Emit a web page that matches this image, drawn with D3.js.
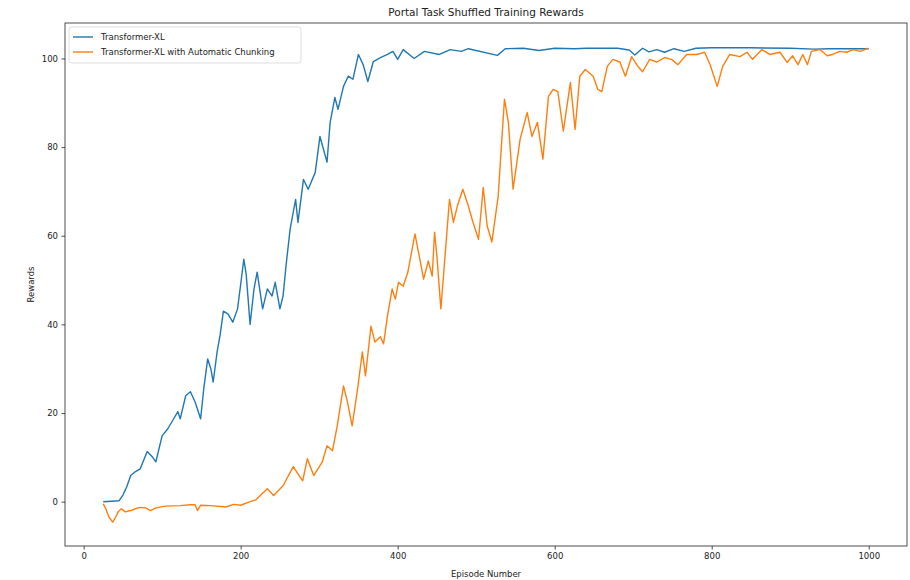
<!DOCTYPE html>
<html>
<head>
<meta charset="utf-8">
<script src="https://cdn.jsdelivr.net/npm/d3@7/dist/d3.min.js"></script>
<style>
  html, body { margin: 0; padding: 0; background: #fff; }
  svg text { font-family: "DejaVu Sans", sans-serif; fill: #222; }
</style>
</head>
<body>
<svg id="chart" width="910" height="580"></svg>
<script>
// ---- data ----
const title = "Portal Task Shuffled Training Rewards";
const xLabel = "Episode Number";
const yLabel = "Rewards";
const seriesNames = ["Transformer-XL", "Transformer-XL with Automatic Chunking"];
const xTicks = [0, 200, 400, 600, 800, 1000];
const yTicks = [0, 20, 40, 60, 80, 100];

const blueEpisodes = [25, 45, 50, 55, 60, 66, 72, 81, 88, 92, 100, 107, 113, 120, 123, 130, 136, 142, 149, 153,
  158, 162, 165, 170, 174, 178, 184, 190, 196, 200, 204, 207, 212, 217, 221, 228, 234, 240, 244, 250,
  254, 258, 263, 270, 273, 280, 286, 295, 301, 310, 314, 320, 324, 331, 337, 343, 350, 356, 362, 369,
  378, 387, 394, 400, 407, 421, 434, 453, 467, 481, 490, 527, 537, 560, 580, 600, 625, 640, 680, 695,
  702, 712, 720, 730, 740, 752, 765, 780, 800, 850, 900, 930, 950, 1000];
const blueRewards = [0, 0.2, 1.5, 3.4, 5.9, 6.8, 7.4, 11.3, 10, 9, 14.9, 16.4, 18.2, 20.3, 18.7, 23.9, 24.8, 22.5, 18.7, 25.5,
  32.2, 30, 27, 33.8, 37.8, 43, 42.3, 40.5, 43.5, 49, 54.7, 51.4, 40, 48, 51.8, 43.5, 48, 46.4, 49.5, 43.5,
  46.4, 53.6, 61.5, 68.2, 63, 72.7, 70.5, 74.3, 82.4, 76.6, 85.6, 91.2, 88.5, 93.7, 96, 95.3, 100.9, 98.6, 94.8, 99.3,
  100.2, 100.9, 101.6, 99.8, 102, 100, 101.6, 100.9, 102, 101.6, 102.2, 100.7, 102.2, 102.3, 101.8, 102.3, 102.2, 102.3, 102.3, 101.9,
  100.8, 102.3, 101.5, 102, 101.4, 102.2, 101.6, 102.3, 102.4, 102.4, 102.3, 102.1, 102.2, 102.2];

const orangeEpisodes = [25, 28, 32, 37, 41, 44, 48, 53, 60, 66, 72, 79, 85, 92, 104, 123, 136, 142, 145, 149,
  162, 181, 191, 200, 212, 219, 234, 242, 254, 267, 279, 285, 293, 304, 310, 317, 323, 331, 336, 342,
  349, 355, 359, 366, 371, 378, 382, 387, 393, 397, 401, 407, 413, 422, 429, 433, 439, 444, 447, 450,
  455, 459, 466, 471, 476, 483, 490, 496, 503, 509, 514, 520, 528, 536, 541, 547, 556, 565, 571, 578,
  585, 592, 598, 604, 611, 620, 626, 632, 639, 649, 655, 660, 667, 674, 683, 690, 698, 706, 712, 721,
  730, 740, 749, 757, 768, 781, 791, 798, 807, 814, 823, 836, 845, 852, 864, 874, 887, 896, 903, 910,
  916, 922, 927, 938, 947, 954, 963, 972, 980, 989, 995, 999];
const orangeRewards = [-0.5, -1.5, -3.4, -4.6, -3.4, -2.3, -1.6, -2.3, -2.0, -1.6, -1.3, -1.4, -2.0, -1.4, -1.0, -0.9, -0.7, -0.7, -2.0, -0.8,
  -0.9, -1.2, -0.6, -0.8, 0, 0.4, 2.9, 1.4, 3.6, 7.9, 4.7, 9.7, 5.9, 9, 12.6, 11.5, 17.1, 26.1, 22.5, 17.1,
  25.5, 33.8, 28.4, 39.6, 36, 37.2, 35.6, 41.9, 48, 45.7, 49.5, 48.6, 51.8, 60.4, 54, 50.2, 54.3, 50.9, 60.8, 55.4,
  43.5, 52.5, 68.2, 63, 66.7, 70.5, 66.7, 63, 59.2, 70.9, 62.2, 58.6, 68.9, 90.8, 85.6, 70.5, 81.8, 87.8, 82.4, 85.6,
  77.3, 91.4, 93, 92.5, 83.6, 94.6, 84, 96, 97.5, 96, 93, 92.5, 98.2, 99.8, 99.2, 96, 100.4, 98.2, 97, 99.8,
  99.2, 100.2, 99.8, 98.6, 100.9, 100.9, 101.4, 98.6, 93.7, 98.2, 100.9, 100.4, 101.4, 99.8, 102, 100.9, 101.4, 99.1, 100.6, 98.6,
  100.9, 98.6, 101.6, 102, 100.6, 100.9, 101.6, 101.4, 102, 101.6, 102, 102.3];

const colors = ["#1f77b4", "#ff7f0e"];

// ---- layout ----
const W = 910, H = 580;
const margin = { left: 65, right: 3, top: 23, bottom: 34 };
const iw = W - margin.left - margin.right;
const ih = H - margin.top - margin.bottom;

const svg = d3.select("#chart");
const g = svg.append("g").attr("transform", `translate(${margin.left},${margin.top})`);

const x = d3.scaleLinear().domain([-23.75, 1048.75]).range([0, iw]);
const y = d3.scaleLinear().domain([-10, 108]).range([ih, 0]);

// lines
const series = [
  blueEpisodes.map((e, i) => [e, blueRewards[i]]),
  orangeEpisodes.map((e, i) => [e, orangeRewards[i]])
];
const line = d3.line().x(d => x(d[0])).y(d => y(d[1]));
const clip = g.append("clipPath").attr("id", "clip").append("rect").attr("width", iw).attr("height", ih);
series.forEach((s, i) => {
  g.append("path").datum(s)
    .attr("fill", "none").attr("stroke", colors[i]).attr("stroke-width", 1.4)
    .attr("stroke-linejoin", "round").attr("clip-path", "url(#clip)")
    .attr("d", line);
});

// axes
const xAxis = d3.axisBottom(x).tickValues(xTicks).tickSize(3.5).tickPadding(3.5).tickFormat(d3.format("d"));
const yAxis = d3.axisLeft(y).tickValues(yTicks).tickSize(3.5).tickPadding(3.5).tickFormat(d3.format("d"));
const gx = g.append("g").attr("transform", `translate(0,${ih})`).call(xAxis);
const gy = g.append("g").call(yAxis);
[gx, gy].forEach(a => {
  a.select(".domain").remove();
  a.selectAll(".tick line").attr("stroke", "#222").attr("stroke-width", 0.8);
  a.selectAll(".tick text").attr("font-size", 8.5).attr("fill", "#222").attr("font-family", "DejaVu Sans");
});

// frame
g.append("rect").attr("width", iw).attr("height", ih)
  .attr("fill", "none").attr("stroke", "#222").attr("stroke-width", 0.8);

// title & labels
svg.append("text").attr("x", margin.left + iw / 2).attr("y", 16)
  .attr("text-anchor", "middle").attr("font-size", 10.5).text(title);
svg.append("text").attr("x", margin.left + iw / 2).attr("y", 577)
  .attr("text-anchor", "middle").attr("font-size", 8.5).text(xLabel);
svg.append("text").attr("transform", `translate(34,${margin.top + ih / 2}) rotate(-90)`)
  .attr("text-anchor", "middle").attr("font-size", 8.5).text(yLabel);

// legend
const lg = g.append("g").attr("transform", "translate(4,4)");
lg.append("rect").attr("width", 232).attr("height", 36).attr("rx", 2.5)
  .attr("fill", "#fff").attr("fill-opacity", 0.8).attr("stroke", "#d5d5d5").attr("stroke-width", 0.8);
seriesNames.forEach((name, i) => {
  const yy = 10 + i * 15;
  lg.append("line").attr("x1", 4).attr("x2", 24).attr("y1", yy).attr("y2", yy)
    .attr("stroke", colors[i]).attr("stroke-width", 1.4);
  lg.append("text").attr("x", 32).attr("y", yy + 3).attr("font-size", 8.5).text(name);
});
</script>
</body>
</html>
